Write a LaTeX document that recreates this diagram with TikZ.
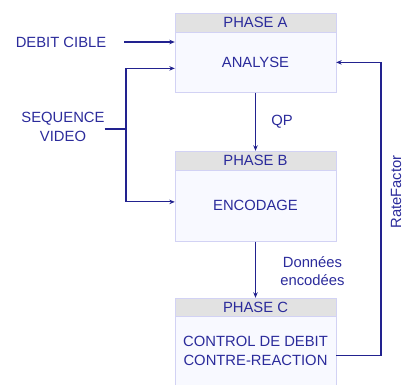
\documentclass[tikz,border=0pt]{standalone}
\usepackage{fontspec}
\setmainfont{Liberation Sans}
\usetikzlibrary{arrows.meta}
\definecolor{ink}{HTML}{2B2B9B}
\definecolor{wire}{HTML}{22228F}
\definecolor{frame}{HTML}{D2D2F4}
\definecolor{head}{HTML}{E2E2E2}
\definecolor{body}{HTML}{F8F9FF}

\begin{document}
\begin{tikzpicture}[x=1pt,y=-1pt]
    \tikzstyle{every node}=[font=\fontsize{14.8}{19}\selectfont, text=ink]
    \tikzstyle{phasehead}=[draw=frame, fill=head, minimum width=161pt, minimum height=19pt, inner sep=0pt]
    \tikzstyle{phasebody}=[draw=frame, fill=body, minimum width=161pt, inner sep=0pt, align=center]
    \tikzstyle{flow}=[draw=wire, line width=1.1pt, -{Stealth[length=5.5pt,width=4.5pt]}]
    \tikzstyle{wireline}=[draw=wire, line width=1.1pt]
    \useasboundingbox (0,0) rectangle (405,385);
    % phases
    \node[phasehead] (headA) at (255.5,22.5) {PHASE A};
    \node[phasebody, minimum height=60pt, anchor=north] (analyse) at (headA.south) {ANALYSE};
    \node[phasehead] (headB) at (255.5,160.5) {PHASE B};
    \node[phasebody, minimum height=71pt, anchor=north] (encodage) at (headB.south) {ENCODAGE};
    \node[phasehead, minimum height=18pt] (headC) at (255.5,307) {PHASE C};
    \node[phasebody, minimum height=70pt, anchor=north] (control) at (headC.south) {CONTROL DE DEBIT\\CONTRE-REACTION};
    % inputs
    \node[inner sep=0pt] (debit) at (61,42) {DEBIT CIBLE};
    \node[inner sep=0pt, align=center] (sequence) at (63,127) {SEQUENCE\\VIDEO};
    \coordinate (split) at (126,129);
    \coordinate (feedback) at (381,347);
    \draw[flow] ([xshift=18pt]debit.east) -- (analyse.west |- debit);
    \draw[wireline] ([yshift=-2pt]sequence.east) -- (split);
    \draw[flow] (split) |- ([yshift=-6pt]analyse.west);
    \draw[flow] (split) |- ([yshift=4pt]encodage.west);
    % links between phases
    \draw[flow] (analyse) -- node[right=12pt] {QP} (headB);
    \draw[flow] (encodage) -- node[right=21pt, align=center, yshift=-1pt, font=\fontsize{14.8}{18}\selectfont] {Données\\encodées} (headC);
    \draw[flow] ([yshift=-4pt]control.east) -| (feedback |- analyse.east) -- (analyse.east);
    \node[rotate=90, inner sep=0pt] (rate) at (396,192) {RateFactor};
\end{tikzpicture}
\end{document}
